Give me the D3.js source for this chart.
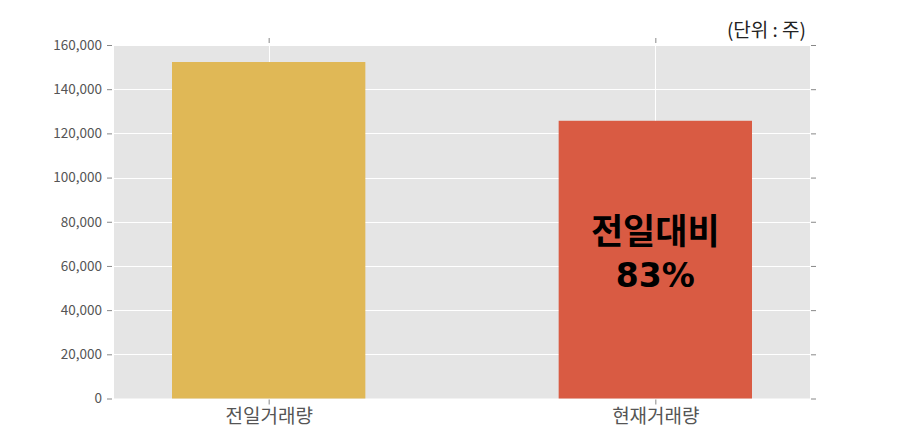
<!DOCTYPE html>
<html><head><meta charset="utf-8">
<script src="https://cdn.jsdelivr.net/npm/d3@7"></script>
<style>body{margin:0;background:#fff;} svg{display:block;}</style>
</head><body>
<svg id="c" width="900" height="443"></svg>
<script>
const categories = ["전일거래량", "현재거래량"];
const values = [152300, 125700];
const barColors = ["#E0B856", "#D95B43"];
const yTicks = [0, 20000, 40000, 60000, 80000, 100000, 120000, 140000, 160000];
const unitLabel = "(단위 : 주)";
const annotation = ["전일대비", "83%"];

const svg = d3.select("#c");
const L = 114, R = 810, T = 45, B = 398.5;
const x = d3.scaleLinear().domain([-0.4, 1.4]).range([L, R]);
const y = d3.scaleLinear().domain([0, 160000]).range([B, T]);
const font = "'Noto Sans CJK KR', 'Noto Sans', sans-serif";

svg.append("rect").attr("x", L).attr("y", T).attr("width", R - L).attr("height", B - T).attr("fill", "#E5E5E5");

// grid
svg.append("g").selectAll("line").data(yTicks).join("line")
  .attr("x1", L).attr("x2", R).attr("y1", d => Math.round(y(d)) + 0.5).attr("y2", d => Math.round(y(d)) + 0.5)
  .attr("stroke", "#fff").attr("stroke-width", 1);
svg.append("g").selectAll("line").data(categories).join("line")
  .attr("x1", (d, i) => Math.round(x(i)) + 0.5).attr("x2", (d, i) => Math.round(x(i)) + 0.5)
  .attr("y1", T).attr("y2", B).attr("stroke", "#fff").attr("stroke-width", 1);

// bars
svg.append("g").selectAll("rect").data(values).join("rect")
  .attr("x", (d, i) => x(i - 0.25)).attr("width", x(0.25) - x(-0.25))
  .attr("y", d => y(d)).attr("height", d => B - y(d))
  .attr("fill", (d, i) => barColors[i]);

// axes
const tickFmt = d3.format(",");
const yl = d3.axisLeft(y).tickValues(yTicks).tickFormat(tickFmt).tickSize(5).tickPadding(5);
const yr = d3.axisRight(y).tickValues(yTicks).tickFormat("").tickSize(5);
const xb = d3.axisBottom(x).tickValues([0, 1]).tickFormat(i => categories[i]).tickSize(5).tickPadding(5);
const xt = d3.axisTop(x).tickValues([0, 1]).tickFormat("").tickSize(5);

function style(g, fs, col) {
  g.select(".domain").remove();
  g.selectAll(".tick line").attr("stroke", "#888");
  g.selectAll(".tick text").attr("fill", col).style("font-size", fs + "px").style("font-family", font);
}
svg.append("g").attr("transform", `translate(${L - 2},0)`).call(yl).call(g => style(g, 13.5, "#555"));
svg.append("g").attr("transform", `translate(${R + 1},0)`).call(yr).call(g => style(g, 12, "#555"));
svg.append("g").attr("transform", `translate(0,${B + 1})`).call(xb).call(g => style(g, 19, "#555"));
svg.append("g").attr("transform", `translate(0,${T - 2})`).call(xt).call(g => style(g, 12, "#555"));

svg.append("text").attr("x", 806).attr("y", 37).attr("text-anchor", "end")
  .style("font-family", font).style("font-size", "19px").attr("fill", "#222").text(unitLabel);

const annFonts = [font, "'DejaVu Sans', sans-serif"];
const annSizes = [35, 33];
const annY = [244, 287];
svg.append("g").selectAll("text").data(annotation).join("text")
  .attr("x", x(1)).attr("y", (d, i) => annY[i]).attr("text-anchor", "middle")
  .style("font-family", (d, i) => annFonts[i]).style("font-size", (d, i) => annSizes[i] + "px")
  .style("font-weight", "bold").attr("fill", "#000").text(d => d);
</script>
</body></html>
